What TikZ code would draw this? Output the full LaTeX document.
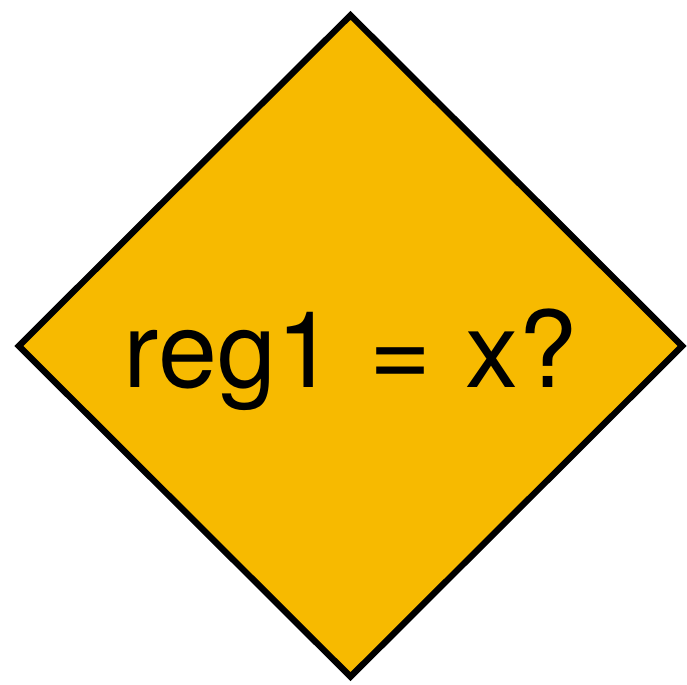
\documentclass[tikz,border=0pt]{standalone}
\usepackage{fontspec}
\setmainfont{TeX Gyre Heros}
\usepackage{xcolor}
\usepackage{tikz}
\usetikzlibrary{shapes.geometric}
\definecolor{decisionfill}{HTML}{F7BA00}
\newcommand{\decisionfont}{\fontsize{30.2}{36}\selectfont\spaceskip=0.32em\relax}

\begin{document}
\begin{tikzpicture}[
decision/.style={diamond, draw=black, line width=1.8pt, fill=decisionfill, minimum width=6.66cm, minimum height=6.64cm, inner sep=0pt, text height=0.84cm, text depth=0pt, align=center, font=\decisionfont}
]
\useasboundingbox (0,0) rectangle (6.87,6.85);
\node[decision] (check) at (3.505,3.39) {reg1 = x?};
\end{tikzpicture}
\end{document}
